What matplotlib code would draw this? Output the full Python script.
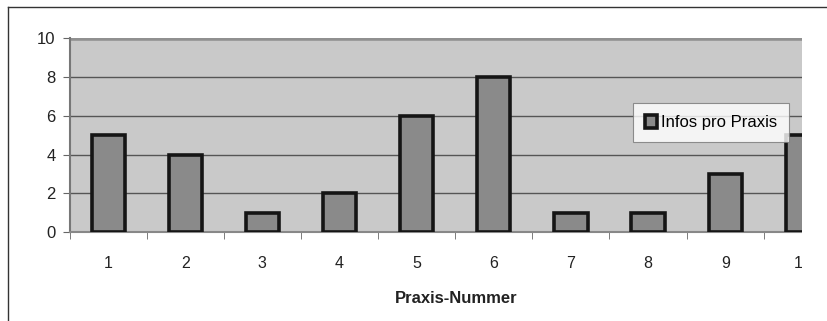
import numpy as np
import matplotlib
matplotlib.use('Agg')
from matplotlib import pyplot as plt
from matplotlib.lines import Line2D
from matplotlib.patches import Rectangle

# Daten
praxis = [1, 2, 3, 4, 5, 6, 7, 8, 9, 10]
infos = [5, 4, 1, 2, 6, 8, 1, 1, 3, 5]
y_ticks = [0, 2, 4, 6, 8, 10]


def main():
    plt.rcParams['font.family'] = ['Liberation Sans', 'DejaVu Sans']
    fig = plt.figure(figsize=(8.28, 3.21), dpi=100)
    ax = fig.add_axes([0.084, 0.277, 0.885, 0.604])
    ax.set_facecolor('#c9c9c9')

    ax.bar(praxis, infos, width=0.43, color='#8a8a8a', edgecolor='#151515',
           linewidth=2.6, label='Infos pro Praxis', zorder=3)

    # Diagramm rechts abgeschnitten wie im Original
    ax.set_xlim(0.5, 10.0)
    ax.set_ylim(0, 10)
    ax.set_yticks(y_ticks)
    ax.yaxis.grid(True, color='#555555', linewidth=1.0, zorder=1)
    ax.axhline(10, color='#909090', linewidth=4, zorder=2)

    ax.set_xticks(praxis)
    ax.set_xticklabels([str(p) for p in praxis])
    ax.set_xticks(np.arange(0.5, 10.5, 1.0), minor=True)
    ax.tick_params(axis='x', which='major', length=0, pad=17, labelsize=11.5,
                   colors='#222222')
    ax.tick_params(axis='x', which='minor', length=5, color='#666666')
    ax.tick_params(axis='y', length=5, color='#666666', labelsize=12,
                   labelcolor='#222222', pad=5)

    for s in ['top', 'right']:
        ax.spines[s].set_visible(False)
    ax.spines['left'].set_color('#777777')
    ax.spines['left'].set_linewidth(1.5)
    ax.spines['bottom'].set_color('#888888')
    ax.spines['bottom'].set_linewidth(1.5)

    # Achsentitel mittig zum ursprünglichen (breiteren) Diagramm
    ax.set_xlabel('Praxis-Nummer', fontweight='bold', fontsize=12,
                  color='#222222')
    ax.xaxis.set_label_coords(0.527, -0.305)

    leg = ax.legend(loc='upper left', bbox_to_anchor=(0.769, 0.665), fontsize=12,
                    frameon=True, fancybox=False, edgecolor='#777777',
                    handlelength=0.75, handleheight=0.85, handletextpad=0.25,
                    borderpad=0.7, borderaxespad=0)
    leg.get_frame().set_linewidth(0.8)

    # rechter Rand abgeschnitten (auch die Beschriftung "10")
    fig.add_artist(Rectangle((802 / 828, 0), 26 / 828, 1 - 9 / 321,
                             transform=fig.transFigure, facecolor='white',
                             edgecolor='none', zorder=10))

    # Rahmen um die Grafik
    fig.add_artist(Line2D([8 / 828, 1], [1 - 7 / 321, 1 - 7 / 321],
                          transform=fig.transFigure, color='#333333', linewidth=1,
                          zorder=11))
    fig.add_artist(Line2D([8 / 828, 8 / 828], [0, 1 - 7 / 321],
                          transform=fig.transFigure, color='#333333', linewidth=1,
                          zorder=11))

    fig.savefig('out.png', dpi=100)


if __name__ == '__main__':
    main()
